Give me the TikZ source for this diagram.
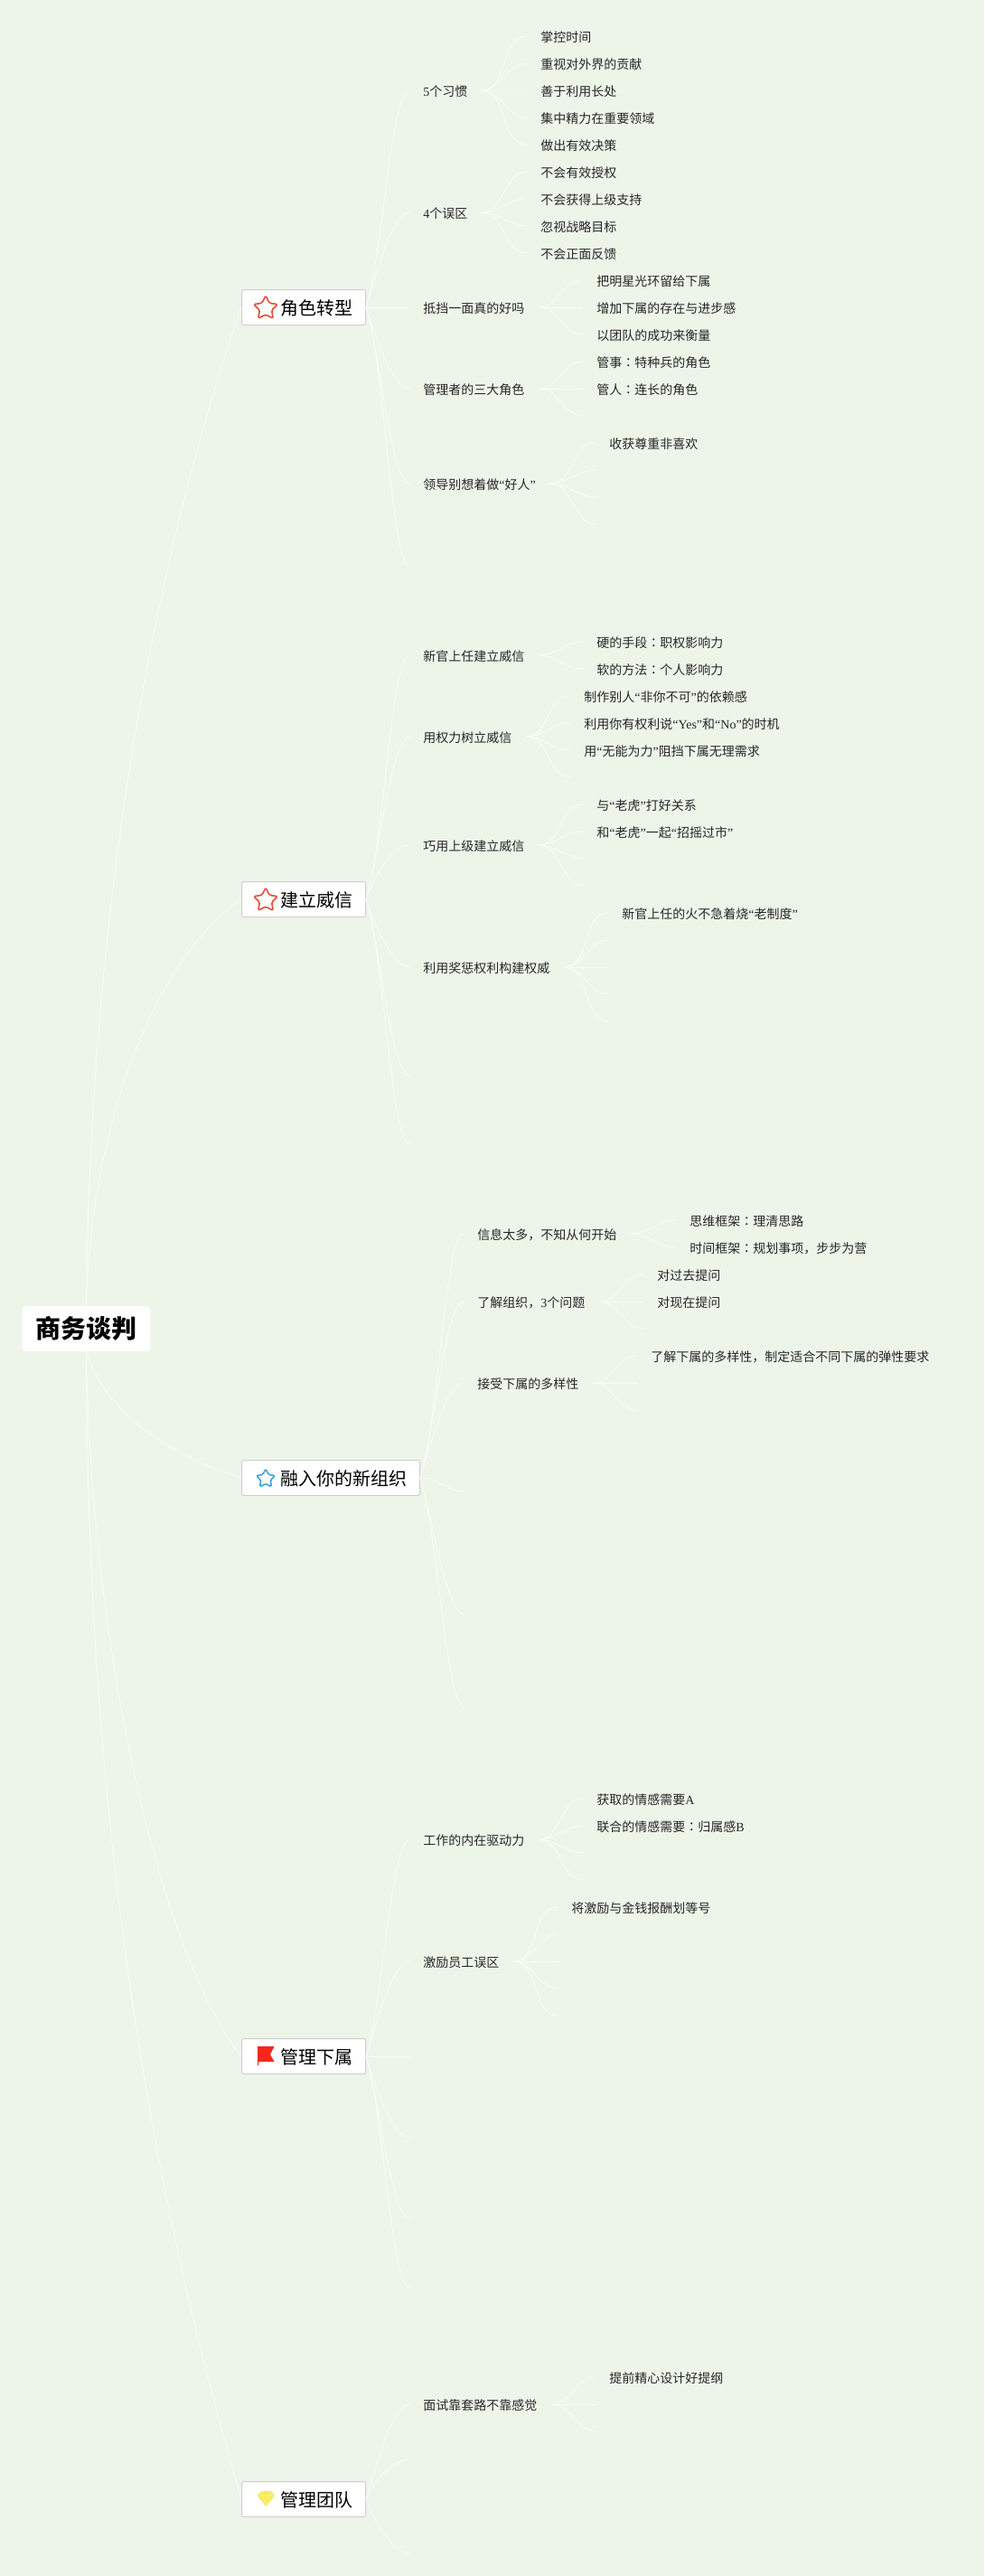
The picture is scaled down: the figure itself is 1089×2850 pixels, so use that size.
\documentclass[tikz,border=0pt]{standalone}
\usepackage{fontspec}
\usetikzlibrary{shapes.geometric}
\setmainfont{Noto Sans CJK SC}
\newfontfamily\latin{Liberation Serif}
\newfontfamily\tcfont{Noto Sans CJK TC}
\newcommand{\en}[1]{{\latin #1}}
\newcommand{\mao}{{\tcfont ：}}
\definecolor{paper}{HTML}{EDF5E9}
\definecolor{twigwhite}{HTML}{F8FBF5}
\definecolor{boxline}{HTML}{CFCFCF}
\definecolor{starred}{HTML}{E0503B}
\definecolor{starblue}{HTML}{3FA4DC}
\definecolor{flagred}{HTML}{F4281A}
\definecolor{gemyellow}{HTML}{F7EB55}
\begin{document}
\begin{tikzpicture}[x=.5pt,y=-.5pt,
root node/.style={fill=white,rounded corners=2pt,minimum width=71pt,minimum height=25pt,inner sep=0pt,font=\fontsize{14}{16}\selectfont\bfseries},
topic node/.style={draw=boxline,line width=.5pt,fill=white,rounded corners=1pt,minimum height=19.5pt,inner sep=0pt,anchor=west,text height=9.6pt,text depth=1pt,font=\fontsize{10}{12}\selectfont},
sub node/.style={anchor=west,xshift=-.5pt,inner xsep=7.5pt,inner ysep=0pt,text height=7pt,text depth=.8pt,text=black!85,font=\fontsize{7}{9}\selectfont},
star node/.style={star,star points=5,star point ratio=2,draw=#1,fill=white,line width=.8pt,rounded corners=.8pt,inner sep=0pt},
branch/.style={twigwhite,line width=.5pt},
rise/.style={out=72,in=180,out looseness=.6,in distance=10pt},
sink/.style={out=-72,in=180,out looseness=.6,in distance=10pt},
flat/.style={out=0,in=180},
twig/.style={out=0,in=180}]
\useasboundingbox (0,0) rectangle (1089,2850);
\fill[paper] (0,0) rectangle (1089,2850);
\begin{scope}
\node[root node] (v) at (95.5,1470) {商务谈判};
\node[topic node] (v1) at (267,340) {\hspace{21.5pt}角色转型\kern7pt};
\node[topic node] (v2) at (267,995) {\hspace{21.5pt}建立威信\kern7pt};
\node[topic node] (v3) at (267,1635) {\hspace{21.5pt}融入你的新组织\kern7pt};
\node[topic node] (v4) at (267,2275) {\hspace{21.5pt}管理下属\kern7pt};
\node[topic node] (v5) at (267,2765) {\hspace{21.5pt}管理团队\kern7pt};
\node[star node=starred,minimum size=14pt] (s1) at (294,341) {};
\node[star node=starred,minimum size=14pt] (s2) at (294,996) {};
\node[star node=starblue,minimum size=11pt] (s3) at (294,1636) {};
%icons without a star
\fill[flagred] (285,2264) -- (303.5,2264) -- (299,2273) -- (303.5,2281) -- (286,2281) -- (286,2285) -- (285,2285) -- cycle;
\fill[gemyellow] (284.6,2761) -- (289,2756) -- (300,2756) -- (304,2761) -- (294.5,2773) -- cycle;
\draw[white!45!gemyellow,line width=.3pt] (284.6,2761) -- (304,2761) (289,2756) -- (294.5,2773) -- (300,2756);

%group 1
\node[sub node] (v11) at (454,100) {\en{5}个习惯};
\node[sub node] (v12) at (454,235) {\en{4}个误区};
\node[sub node] (v13) at (454,340) {抵挡一面真的好吗};
\node[sub node] (v14) at (454,430) {管理者的三大角色};
\node[sub node] (v15) at (454,535) {领导别想着做\en{“}好人\en{”}};
\coordinate (v16) at (453,626);
\node[sub node] (v111) at (584,40) {掌控时间};
\node[sub node] (v112) at (584,70) {重视对外界的贡献};
\node[sub node] (v113) at (584,100) {善于利用长处};
\node[sub node] (v114) at (584,130) {集中精力在重要领域};
\node[sub node] (v115) at (584,160) {做出有效决策};
\node[sub node] (v121) at (584,190) {不会有效授权};
\node[sub node] (v122) at (584,220) {不会获得上级支持};
\node[sub node] (v123) at (584,250) {忽视战略目标};
\node[sub node] (v124) at (584,280) {不会正面反馈};
\node[sub node] (v131) at (646,310) {把明星光环留给下属};
\node[sub node] (v132) at (646,340) {增加下属的存在与进步感};
\node[sub node] (v133) at (646,370) {以团队的成功来衡量};
\node[sub node] (v141) at (646,400) {管事\mao 特种兵的角色};
\node[sub node] (v142) at (646,430) {管人\mao 连长的角色};
\coordinate (v143) at (646,460);
\node[sub node] (v151) at (660,490) {收获尊重非喜欢};
\coordinate (v152) at (660,520);
\coordinate (v153) at (660,550);
\coordinate (v154) at (660,580);

%group 2
\node[sub node] (v21) at (454,725) {新官上任建立威信};
\node[sub node] (v22) at (454,815) {用权力树立威信};
\node[sub node] (v23) at (454,935) {巧用上级建立威信};
\node[sub node] (v24) at (454,1070) {利用奖惩权利构建权威};
\coordinate (v25) at (453,1190);
\coordinate (v26) at (453,1265);
\node[sub node] (v211) at (646,710) {硬的手段\mao 职权影响力};
\node[sub node] (v212) at (646,740) {软的方法\mao 个人影响力};
\node[sub node] (v221) at (632,770) {制作别人\en{“}非你不可\en{”}的依赖感};
\node[sub node] (v222) at (632,800) {利用你有权利说\en{“Yes”}和\en{“No”}的时机};
\node[sub node] (v223) at (632,830) {用\en{“}无能为力\en{”}阻挡下属无理需求};
\coordinate (v224) at (632,860);
\node[sub node] (v231) at (646,890) {与\en{“}老虎\en{”}打好关系};
\node[sub node] (v232) at (646,920) {和\en{“}老虎\en{”}一起\en{“}招摇过市\en{”}};
\coordinate (v233) at (646,950);
\coordinate (v234) at (646,980);
\node[sub node] (v241) at (674,1010) {新官上任的火不急着烧\en{“}老制度\en{”}};
\coordinate (v242) at (674,1040);
\coordinate (v243) at (674,1070);
\coordinate (v244) at (674,1100);
\coordinate (v245) at (674,1130);

%group 3
\node[sub node] (v31) at (514,1365) {信息太多，不知从何开始};
\node[sub node] (v32) at (514,1440) {了解组织，\en{3}个问题};
\node[sub node] (v33) at (514,1530) {接受下属的多样性};
\coordinate (v34) at (514,1650);
\coordinate (v35) at (514,1786);
\coordinate (v36) at (514,1889);
\node[sub node] (v311) at (749,1350) {思维框架\mao 理清思路};
\node[sub node] (v312) at (749,1380) {时间框架\mao 规划事项，步步为营};
\node[sub node] (v321) at (713,1410) {对过去提问};
\node[sub node] (v322) at (713,1440) {对现在提问};
\coordinate (v323) at (713,1470);
\node[sub node] (v331) at (706,1500) {了解下属的多样性，制定适合不同下属的弹性要求};
\coordinate (v332) at (706,1530);
\coordinate (v333) at (706,1560);

%group 4
\node[sub node] (v41) at (454,2035) {工作的内在驱动力};
\node[sub node] (v42) at (454,2170) {激励员工误区};
\coordinate (v43) at (453,2275);
\coordinate (v44) at (453,2365);
\coordinate (v45) at (453,2454);
\coordinate (v46) at (453,2531);
\node[sub node] (v411) at (646,1990) {获取的情感需要\en{A}};
\node[sub node] (v412) at (646,2020) {联合的情感需要\mao 归属感\en{B}};
\coordinate (v413) at (646,2050);
\coordinate (v414) at (646,2080);
\node[sub node] (v421) at (618,2110) {将激励与金钱报酬划等号};
\coordinate (v422) at (618,2140);
\coordinate (v423) at (618,2170);
\coordinate (v424) at (618,2200);
\coordinate (v425) at (618,2230);

%group 5
\node[sub node] (v51) at (454,2660) {面试靠套路不靠感觉};
\coordinate (v52) at (453,2721);
\coordinate (v53) at (453,2825);
\node[sub node] (v511) at (660,2630) {提前精心设计好提纲};
\coordinate (v512) at (660,2660);
\coordinate (v513) at (660,2690);
\end{scope}
\begin{scope}[branch]
\draw (v.north) .. controls (100,1000) and (170,620) .. (v1.west);
\draw (v.north) .. controls (100,1250) and (170,1060) .. (v2.west);
\draw (v.south) .. controls (115,1560) and (185,1610) .. (v3.west);
\draw (v.south) .. controls (100,1800) and (170,2150) .. (v4.west);
\draw (v.south) .. controls (97,2100) and (190,2500) .. (v5.west);

\draw (v1.east) edge[rise] (v11.west);
\draw (v1.east) edge[rise] (v12.west);
\draw (v1.east) edge[flat] (v13.west);
\draw (v1.east) edge[sink] (v14.west);
\draw (v1.east) edge[sink] (v15.west);
\draw (v1.east) edge[sink] (v16);
\draw (v11.east) edge[twig] (v111.west);
\draw (v11.east) edge[twig] (v112.west);
\draw (v11.east) edge[twig] (v113.west);
\draw (v11.east) edge[twig] (v114.west);
\draw (v11.east) edge[twig] (v115.west);
\draw (v12.east) edge[twig] (v121.west);
\draw (v12.east) edge[twig] (v122.west);
\draw (v12.east) edge[twig] (v123.west);
\draw (v12.east) edge[twig] (v124.west);
\draw (v13.east) edge[twig] (v131.west);
\draw (v13.east) edge[twig] (v132.west);
\draw (v13.east) edge[twig] (v133.west);
\draw (v14.east) edge[twig] (v141.west);
\draw (v14.east) edge[twig] (v142.west);
\draw (v14.east) edge[twig] (v143);
\draw (v15.east) edge[twig] (v151.west);
\draw (v15.east) edge[twig] (v152);
\draw (v15.east) edge[twig] (v153);
\draw (v15.east) edge[twig] (v154);

\draw (v2.east) edge[rise] (v21.west);
\draw (v2.east) edge[rise] (v22.west);
\draw (v2.east) edge[rise] (v23.west);
\draw (v2.east) edge[sink] (v24.west);
\draw (v2.east) edge[sink] (v25);
\draw (v2.east) edge[sink] (v26);
\draw (v21.east) edge[twig] (v211.west);
\draw (v21.east) edge[twig] (v212.west);
\draw (v22.east) edge[twig] (v221.west);
\draw (v22.east) edge[twig] (v222.west);
\draw (v22.east) edge[twig] (v223.west);
\draw (v22.east) edge[twig] (v224);
\draw (v23.east) edge[twig] (v231.west);
\draw (v23.east) edge[twig] (v232.west);
\draw (v23.east) edge[twig] (v233);
\draw (v23.east) edge[twig] (v234);
\draw (v24.east) edge[twig] (v241.west);
\draw (v24.east) edge[twig] (v242);
\draw (v24.east) edge[twig] (v243);
\draw (v24.east) edge[twig] (v244);
\draw (v24.east) edge[twig] (v245);

\draw (v3.east) edge[rise] (v31.west);
\draw (v3.east) edge[rise] (v32.west);
\draw (v3.east) edge[rise] (v33.west);
\draw (v3.east) edge[twig] (v34);
\draw (v3.east) edge[sink] (v35);
\draw (v3.east) edge[sink] (v36);
\draw (v31.east) edge[twig] (v311.west);
\draw (v31.east) edge[twig] (v312.west);
\draw (v32.east) edge[twig] (v321.west);
\draw (v32.east) edge[twig] (v322.west);
\draw (v32.east) edge[twig] (v323);
\draw (v33.east) edge[twig] (v331.west);
\draw (v33.east) edge[twig] (v332);
\draw (v33.east) edge[twig] (v333);

\draw (v4.east) edge[rise] (v41.west);
\draw (v4.east) edge[rise] (v42.west);
\draw (v4.east) edge[flat] (v43);
\draw (v4.east) edge[sink] (v44);
\draw (v4.east) edge[sink] (v45);
\draw (v4.east) edge[sink] (v46);
\draw (v41.east) edge[twig] (v411.west);
\draw (v41.east) edge[twig] (v412.west);
\draw (v41.east) edge[twig] (v413);
\draw (v41.east) edge[twig] (v414);
\draw (v42.east) edge[twig] (v421.west);
\draw (v42.east) edge[twig] (v422);
\draw (v42.east) edge[twig] (v423);
\draw (v42.east) edge[twig] (v424);
\draw (v42.east) edge[twig] (v425);

\draw (v5.east) edge[rise] (v51.west);
\draw (v5.east) edge[rise] (v52);
\draw (v5.east) edge[sink] (v53);
\draw (v51.east) edge[twig] (v511.west);
\draw (v51.east) edge[twig] (v512);
\draw (v51.east) edge[twig] (v513);
\end{scope}
\end{tikzpicture}
\end{document}
